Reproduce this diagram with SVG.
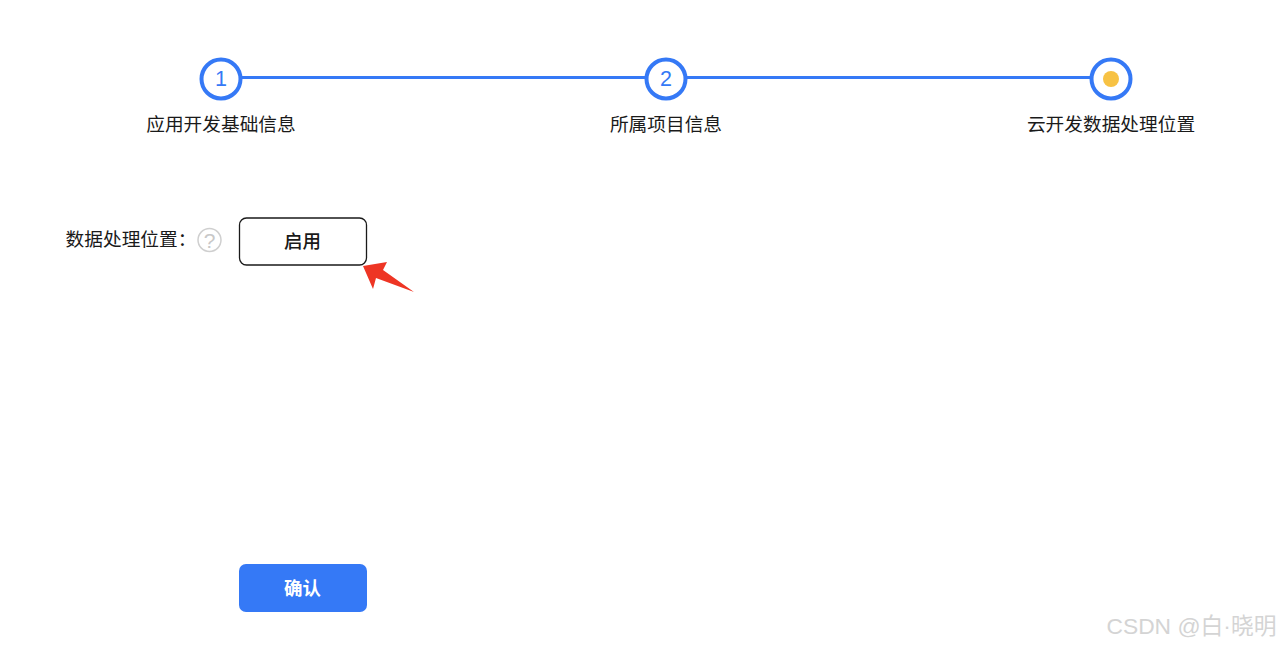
<svg xmlns="http://www.w3.org/2000/svg" width="1280" height="647" viewBox="0 0 1280 647">
<style>
text{font-family:"Noto Sans CJK SC","Liberation Sans",sans-serif;fill:#1a1a1a;text-anchor:middle}
.lbl{font-size:18.7px}
.num{font-family:"Liberation Sans",Arial,sans-serif;font-size:21.500px;fill:#3579f6}
.ring{fill:#fff;stroke:#3579f6;stroke-width:4}
.conn{stroke:#3579f6;stroke-width:3;fill:none}
</style>
<rect width="1280" height="647" fill="#fff"/>
<g id="connectors">
<line class="conn" x1="241" y1="77.500" x2="646" y2="77.500"/>
<line class="conn" x1="686" y1="77.500" x2="1091" y2="77.500"/>
</g>
<g id="step1">
<circle class="ring" cx="221" cy="79" r="19.500"/>
<text class="num" x="221" y="85.500">1</text>
<text class="lbl" x="221" y="131">应用开发基础信息</text>
</g>
<g id="step2">
<circle class="ring" cx="666" cy="79" r="19.500"/>
<text class="num" x="666" y="85.500">2</text>
<text class="lbl" x="666" y="131">所属项目信息</text>
</g>
<g id="step3">
<circle class="ring" cx="1111" cy="79" r="19.500"/>
<circle cx="1111" cy="79" r="8" fill="#f7c244"/>
<text class="lbl" x="1111" y="131">云开发数据处理位置</text>
</g>
<g id="field-label">
<text class="lbl" x="131" y="246">数据处理位置：</text>
</g>
<g id="help-icon">
<circle cx="209.500" cy="240" r="11.500" fill="#fff" stroke="#cfcfcf" stroke-width="1.500"/>
<text x="209.500" y="247.500" style="font-family:'Liberation Sans',sans-serif;font-size:21px;fill:#c8c8c8">?</text>
</g>
<g id="enable-button">
<rect x="239.500" y="218" width="127" height="47" rx="7" fill="#fff" stroke="#1a1a1a" stroke-width="1.300"/>
<text x="302.500" y="248" style="font-size:18.5px;font-weight:500">启用</text>
</g>
<g id="red-arrow">
<polygon points="363,266 387,262 383,270 414,292 376,278 373,289" fill="#ee3524"/>
</g>
<g id="confirm-button">
<rect x="239" y="564" width="128" height="48" rx="7" fill="#3579f6"/>
<text x="302.500" y="595" style="font-size:18.5px;font-weight:700;fill:#fff">确认</text>
</g>
<g id="watermark">
<text x="1191.500" y="634" style="font-size:22.800px;fill:#d4d4d4;font-family:'Liberation Sans','Noto Sans CJK SC',sans-serif">CSDN @白·晓明</text>
</g>
</svg>
